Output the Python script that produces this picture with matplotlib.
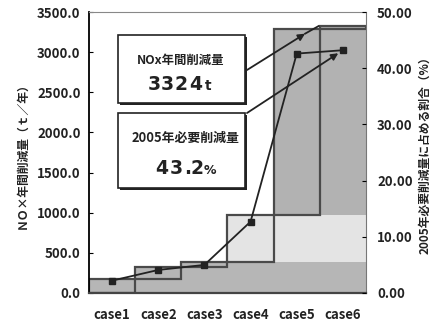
import matplotlib
matplotlib.use("Agg")
import matplotlib.pyplot as plt
from matplotlib.patches import Rectangle

plt.rcParams['font.family'] = ['Noto Sans CJK JP', 'DejaVu Sans']

# data
cases = ['case1', 'case2', 'case3', 'case4', 'case5', 'case6']
nox_cum = [170, 324, 385, 976, 3288, 3324]       # t/年, cumulative
share = [2.2, 4.1, 5.0, 12.7, 42.6, 43.2]        # % of 2005 required reduction
layer_col = ['#b6b6b6', '#b6b6b6', '#b6b6b6', '#e4e4e4', '#b2b2b2', '#b2b2b2']

W, H = 435, 323
fig = plt.figure(figsize=(W / 100, H / 100), dpi=100)
L, R, T, B = 89, 366, 12, 293
ax = fig.add_axes([L / W, (H - B) / H, (R - L) / W, (B - T) / H])

# stacked layers (each case shows all increments up to itself)
bottoms = [0] + nox_cum[:-1]
incs = [c - b for c, b in zip(nox_cum, bottoms)]
for i in range(len(cases)):
    for j in range(i + 1):
        ax.bar(i, incs[j], bottom=bottoms[j], width=1.0, color=layer_col[j],
               linewidth=0, zorder=1)
# waterfall outlines
ax.bar(range(len(cases)), incs, bottom=bottoms, width=1.0, fill=False,
       edgecolor='#4a4a4a', linewidth=1.6, zorder=2)

ax.set_xlim(-0.5, 5.5)
ax.set_ylim(0, 3500)
ax.set_yticks(range(0, 3501, 500))
ax.set_yticklabels([f'{v:.1f}' for v in range(0, 3501, 500)])
ax.set_xticks(range(len(cases)))
ax.set_xticklabels(cases)
ax.tick_params(axis='x', length=0, pad=11, labelsize=9.5)
ax.tick_params(axis='y', direction='in', length=3, labelsize=9.5, pad=6)
for lab in ax.get_xticklabels() + ax.get_yticklabels():
    lab.set_fontweight('bold')
    lab.set_color('#222222')
ax.spines['left'].set_linewidth(1.3)
ax.spines['bottom'].set_linewidth(1.6)
ax.spines['bottom'].set_color('#444444')
ax.spines['top'].set_color('#888888')
ax.spines['top'].set_linestyle((0, (4, 1)))
ax.spines['right'].set_color('#777777')
ax.set_ylabel('ＮＯ×年間削減量（ｔ／年）', fontsize=8.5, fontweight='bold',
              color='#222222', labelpad=6)

ax2 = ax.twinx()
ax2.set_ylim(0, 50)
ax2.set_yticks(range(0, 51, 10))
ax2.set_yticklabels([f'{v:.2f}' for v in range(0, 51, 10)])
ax2.tick_params(axis='y', direction='in', length=3, labelsize=9.5, pad=8)
for lab in ax2.get_yticklabels():
    lab.set_fontweight('bold')
    lab.set_color('#222222')
ax2.plot(range(len(cases)), share, color='#222222', lw=1.3, marker='s',
         ms=4.5, zorder=5)
ax2.set_ylabel('2005年必要削減量に占める割合（%）', fontsize=8.5,
               fontweight='bold', color='#222222', labelpad=4)
for s in ax2.spines.values():
    s.set_visible(False)

# callout boxes (figure pixel coordinates, y downward in the picture)
def px(x, y):
    return x / W, (H - y) / H

for (x0, y0, x1, y1) in [(118, 35, 245, 103), (118, 113, 245, 188)]:
    fig.add_artist(Rectangle(px(x0 + 2, y1 + 2), (x1 - x0) / W, (y1 - y0) / H,
                             transform=fig.transFigure, facecolor='#222222',
                             edgecolor='none', zorder=6))
    fig.add_artist(Rectangle(px(x0, y1), (x1 - x0) / W, (y1 - y0) / H,
                             transform=fig.transFigure, facecolor='white',
                             edgecolor='#222222', lw=1.2, zorder=7))

fig.text(*px(181, 60), 'NOx年間削減量', ha='center', va='center', fontsize=8.9,
         fontweight='bold', color='#222222', zorder=8)
fig.text(*px(186, 138), '2005年必要削減量', ha='center', va='center',
         fontsize=9.3, fontweight='bold', color='#222222', zorder=8)

big = dict(family='DejaVu Sans', fontweight='bold', color='#222222',
           ha='center', va='baseline', zorder=8)
for ch, xc in zip('3324', [154, 167.5, 181, 195.5]):
    fig.text(*px(xc, 90), ch, fontsize=13.5, **big)
fig.text(*px(208.5, 90), 't', fontsize=10, **big)
for ch, xc in zip('43.2', [161.5, 176, 187.5, 197.5]):
    fig.text(*px(xc, 174), ch, fontsize=13.5, **big)
fig.text(*px(210, 174), '%', fontsize=9, **big)

# leader lines
ax.annotate('', xy=(4.18, 3230), xycoords='data',
            xytext=(247 / W, (H - 70) / H), textcoords='figure fraction',
            arrowprops=dict(arrowstyle='-|>', color='#222222', lw=1.3,
                            mutation_scale=10, shrinkA=0, shrinkB=0), zorder=8)
ax.plot([4.18, 4.47], [3230, 3324], color='#222222', lw=1.3, zorder=8)
ax2.annotate('', xy=(5, 43.2), xycoords='data',
             xytext=(247 / W, (H - 113) / H), textcoords='figure fraction',
             arrowprops=dict(arrowstyle='-|>', color='#222222', lw=1.3,
                             mutation_scale=10, shrinkA=0, shrinkB=4), zorder=8)

fig.savefig('out.png', dpi=100)
